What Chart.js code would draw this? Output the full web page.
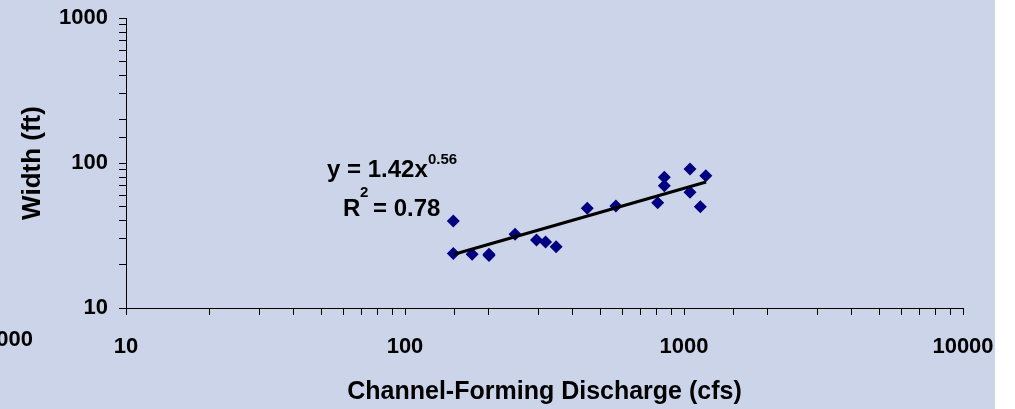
<!DOCTYPE html>
<html>
<head>
<meta charset="utf-8">
<script src="https://cdn.jsdelivr.net/npm/chart.js@4.4.0/dist/chart.umd.min.js"></script>
<style>
  html, body { margin: 0; padding: 0; background: #fff; }
  #wrap { width: 1015px; height: 409px; }
</style>
</head>
<body>
<div id="wrap"><canvas id="chart" width="1015" height="409"></canvas></div>
<script>
// Observed points: discharge (cfs) vs width (ft)
const discharge = [149, 149, 174, 200, 200, 248, 296, 319, 348, 450, 570, 805, 850, 850, 1051, 1051, 1144, 1197];
const width     = [39.8, 23.8, 23.5, 23.5, 23.0, 32.2, 29.4, 28.5, 26.5, 48.7, 50.5, 53.2, 79.6, 69.7, 90.9, 62.8, 50.0, 81.7];

// Power trend line ends
const trendX = [150, 1200];
const trendY = [23.5, 74];

const xTicks = [10, 100, 1000, 10000];
const yTicks = [10, 100, 1000];

const points = discharge.map((d, i) => ({ x: d, y: width[i] }));
const trend = trendX.map((d, i) => ({ x: d, y: trendY[i] }));

const FONT = "'Liberation Sans', Arial, sans-serif";

function decadeLabel(list) {
  return function (value) {
    return list.includes(value) ? String(value) : '';
  };
}

// blue-grey backdrop and the stray bits of the neighbouring chart
const backdrop = {
  id: 'backdrop',
  beforeDraw(chart) {
    const ctx = chart.ctx;
    ctx.save();
    ctx.fillStyle = '#ffffff';
    ctx.fillRect(0, 0, chart.width, chart.height);
    ctx.fillStyle = '#cbd4e8';
    ctx.fillRect(0, 0, 995, chart.height);
    ctx.fillStyle = '#000';
    ctx.font = 'bold 22px ' + FONT;
    ctx.textAlign = 'right';
    ctx.textBaseline = 'alphabetic';
    ctx.fillText('1000', 33, 346);
    ctx.restore();
  }
};

// regression equation text
const equation = {
  id: 'equation',
  afterDatasetsDraw(chart) {
    const ctx = chart.ctx;
    ctx.save();
    ctx.fillStyle = '#000';
    ctx.textBaseline = 'alphabetic';
    ctx.textAlign = 'left';
    ctx.font = 'bold 24px ' + FONT;
    ctx.fillText('y = 1.42x', 327, 177);
    ctx.fillText('R', 343, 216);
    ctx.fillText('= 0.78', 373, 216);
    ctx.font = 'bold 15px ' + FONT;
    ctx.fillText('0.56', 428, 164);
    ctx.fillText('2', 360, 197);
    ctx.restore();
  }
};

const axisGrid = {
  drawOnChartArea: false,
  drawTicks: true,
  tickLength: 7,
  color: '#000',
  lineWidth: 1
};

new Chart(document.getElementById('chart'), {
  type: 'scatter',
  data: {
    datasets: [
      {
        label: 'Width',
        data: points,
        pointStyle: 'rectRot',
        pointRadius: 6.5,
        pointHoverRadius: 6.5,
        backgroundColor: '#000080',
        borderColor: '#000080',
        borderWidth: 0,
        order: 1
      },
      {
        label: 'Power trend',
        type: 'line',
        data: trend,
        borderColor: '#000',
        borderWidth: 3,
        pointRadius: 0,
        fill: false,
        order: 0
      }
    ]
  },
  options: {
    responsive: false,
    animation: false,
    devicePixelRatio: 1,
    layout: { padding: { top: 18, right: 52, bottom: 0, left: 0 } },
    plugins: {
      legend: { display: false },
      tooltip: { enabled: false }
    },
    scales: {
      x: {
        type: 'logarithmic',
        min: 10,
        max: 10000,
        afterFit(s) { s.height = 101; s.paddingLeft = 0; s.paddingRight = 0; },
        grid: axisGrid,
        border: { color: '#000', width: 1 },
        ticks: {
          autoSkip: false,
          maxRotation: 0,
          padding: 19,
          color: '#000',
          font: { family: FONT, size: 22, weight: 'bold' },
          callback: decadeLabel(xTicks)
        },
        title: {
          display: true,
          text: 'Channel-Forming Discharge (cfs)',
          color: '#000',
          font: { family: FONT, size: 25, weight: 'bold' },
          padding: { top: 0, bottom: 2 }
        }
      },
      y: {
        type: 'logarithmic',
        min: 10,
        max: 1000,
        afterFit(s) { s.width = 126; s.paddingTop = 0; s.paddingBottom = 0; },
        grid: axisGrid,
        border: { color: '#000', width: 1 },
        ticks: {
          autoSkip: false,
          padding: 11,
          color: '#000',
          font: { family: FONT, size: 22, weight: 'bold' },
          callback: decadeLabel(yTicks)
        },
        title: {
          display: true,
          text: 'Width (ft)',
          color: '#000',
          font: { family: FONT, size: 26, weight: 'bold' },
          padding: { top: 17, bottom: 0 }
        }
      }
    }
  },
  plugins: [backdrop, equation]
});
</script>
</body>
</html>
